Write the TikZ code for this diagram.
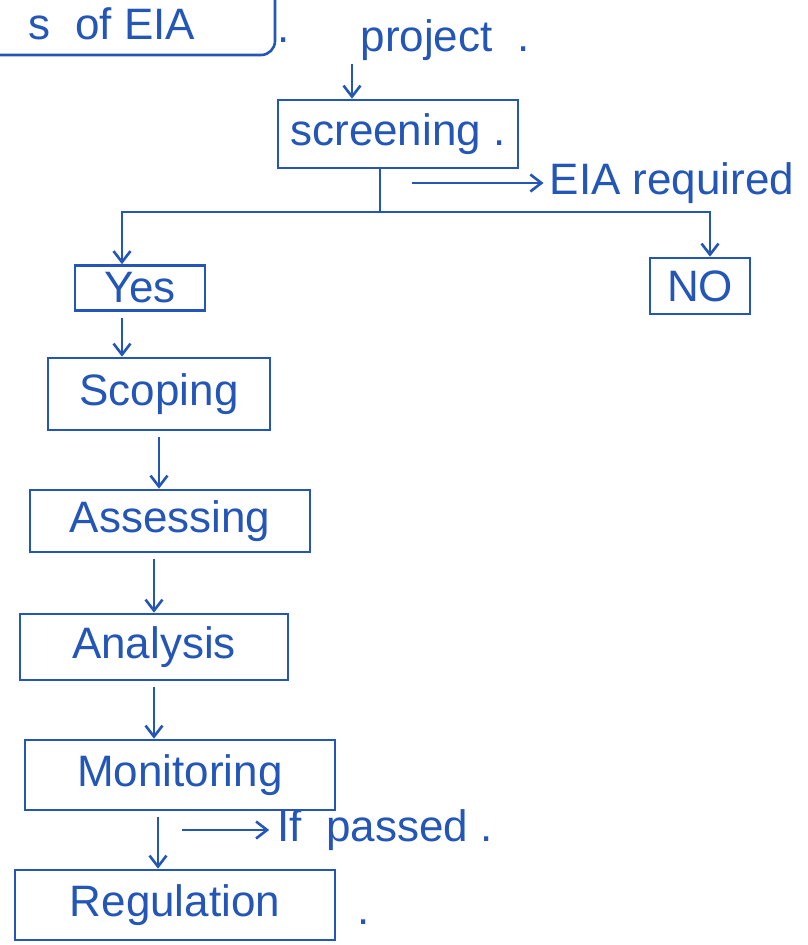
\documentclass[tikz,border=0pt]{standalone}
\usepackage{fontspec}
\setmainfont{Liberation Sans}
\usetikzlibrary{arrows.meta}
\definecolor{ink}{HTML}{2456B8}

\begin{document}
\begin{tikzpicture}[x=1pt,y=-1pt,
 pen/.style={draw=ink,line width=2.6pt},
 stage/.style={pen,text=ink,inner sep=0pt,font=\fontsize{44}{50}\selectfont},
 note/.style={text=ink,inner sep=0pt,font=\fontsize{44}{50}\selectfont},
 flow/.style={pen,-{Straight Barb[length=11pt,width=17pt]},shorten <=6pt}]
\useasboundingbox[fill=white] (0,0) rectangle (807,945);

% title box, cut by the page edge
\draw[pen,rounded corners=14pt] (-20,55) -- (275,55) -- (275,-20);
\node[note] (title) at (112,24) {s \ of EIA};
\node[note] (tdot) at (284,40) {.};

\node[note] (project) at (445,40) {project\ \ .};
\node[stage,minimum width=240,minimum height=68] (screening) at (398,134) {screening .};
\node[note] (required) at (672,183) {EIA required};
\node[stage,minimum width=130,minimum height=45] (yes) at (140,288) {Yes};
\node[stage,minimum width=100,minimum height=56] (no) at (700,286) {NO};

\node[stage,minimum width=222,minimum height=72] (scoping) at (159,394) {Scoping};
\node[stage,minimum width=280,minimum height=62] (assessing) at (170,521) {Assessing};
\node[stage,minimum width=268,minimum height=66] (analysis) at (154,647) {Analysis};
\node[stage,minimum width=310,minimum height=70] (monitoring) at (180,775) {Monitoring};
\node[stage,minimum width=320,minimum height=70] (regulation) at (175,905) {Regulation};
\node[note] (passed) at (385,830) {If\ \ passed\ .};
\node[note] (rdot) at (364,922) {.};

\coordinate (pin) at (352,64);
\draw[flow,shorten <=0pt] (pin) -- (pin |- screening.north);

\coordinate (split) at (380,212);
\draw[pen] (split |- screening.south) -- (split);
\draw[flow,shorten <=0pt] (split) -| ([xshift=-18pt]yes.north);
\draw[flow,shorten <=0pt] (split) -| ([xshift=10pt]no.north);
\coordinate (tick) at (412,183);
\draw[flow,shorten <=0pt,shorten >=6pt] (tick) -- (tick -| required.west);

\path (yes.south) ++(-18,0) coordinate (y1);
\draw[flow] (y1) -- (y1 |- scoping.north);
\draw[flow] (scoping.south) -- (scoping.south |- assessing.north);
\draw[flow] (analysis.north |- assessing.south) -- (analysis.north);
\draw[flow] (analysis.south) -- (analysis.south |- monitoring.north);
\path (monitoring.south) ++(-22,0) coordinate (m1);
\draw[flow] (m1) -- (m1 |- regulation.north);
\coordinate (m2) at (182,830);
\draw[flow,shorten <=0pt,shorten >=8pt] (m2) -- (m2 -| passed.west);

\end{tikzpicture}
\end{document}
